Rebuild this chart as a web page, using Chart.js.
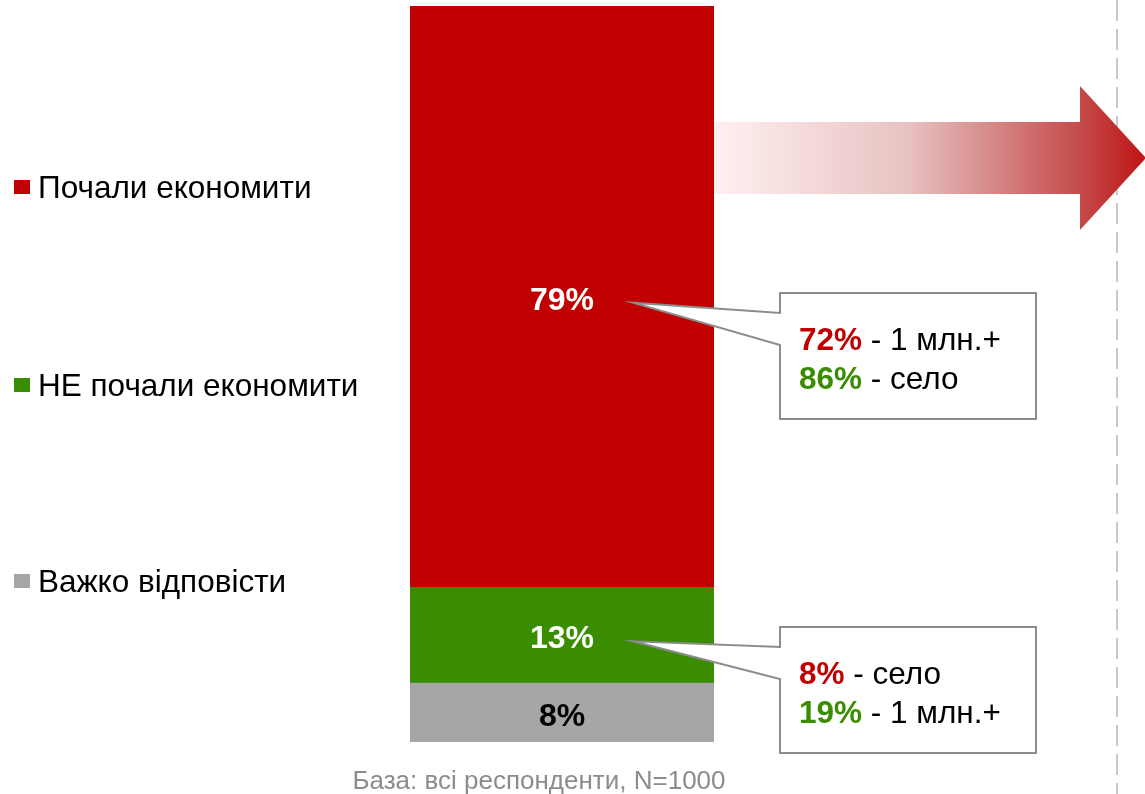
<!DOCTYPE html>
<html>
<head>
<meta charset="utf-8">
<script src="https://cdn.jsdelivr.net/npm/chart.js@4/dist/chart.umd.min.js"></script>
<style>
  html, body { margin: 0; padding: 0; background: #fff; }
  #wrap { width: 1145px; height: 794px; position: relative; }
</style>
</head>
<body>
<div id="wrap"><canvas id="chart"></canvas></div>
<script>
// data
const categories = ["Всі респонденти"];
const seriesLabels = ["Почали економити", "НЕ почали економити", "Важко відповісти"];
const savedValues = [79];
const notSavedValues = [13];
const hardToSayValues = [8];
const savedBreakdown = [["72%", " - 1 млн.+"], ["86%", " - село"]];
const notSavedBreakdown = [["8%", " - село"], ["19%", " - 1 млн.+"]];
const footnote = "База: всі респонденти, N=1000";

const RED = "#c00000";
const GREEN = "#3a8d00";
const GRAY = "#a6a6a6";
const FONT = "'Liberation Sans', Arial, sans-serif";

// legend on the left, spread out like the original slide
const legendPlugin = {
	id: "sideLegend",
	afterDraw(chart) {
		const ctx = chart.ctx;
		const items = [
			{ text: seriesLabels[0], color: RED, y: 198 },
			{ text: seriesLabels[1], color: GREEN, y: 396 },
			{ text: seriesLabels[2], color: GRAY, y: 592 },
		];
		ctx.save();
		ctx.font = "31.5px " + FONT;
		ctx.textBaseline = "alphabetic";
		items.forEach((it) => {
			ctx.fillStyle = it.color;
			ctx.fillRect(14, it.y - 18, 16, 14);
			ctx.fillStyle = "#000";
			ctx.fillText(it.text, 38, it.y);
		});
		ctx.restore();
	},
};

// arrow, dashed line, labels, callouts
const decorPlugin = {
	id: "decor",
	beforeDatasetsDraw(chart) {
		const ctx = chart.ctx;
		const area = chart.chartArea;
		ctx.save();
		// dashed divider
		ctx.strokeStyle = "#c8c8c8";
		ctx.lineWidth = 2;
		ctx.setLineDash([21, 8]);
		ctx.beginPath();
		ctx.moveTo(1117, 0);
		ctx.lineTo(1117, 794);
		ctx.stroke();
		ctx.setLineDash([]);
		// gradient arrow
		const x0 = area.right, xh = 1080, xt = 1146;
		const g = ctx.createLinearGradient(x0, 0, xt, 0);
		g.addColorStop(0, "rgba(255,240,240,1)");
		g.addColorStop(0.45, "#e8c2c2");
		g.addColorStop(0.85, "#c44a4a");
		g.addColorStop(1, "#bf1414");
		ctx.fillStyle = g;
		ctx.beginPath();
		ctx.moveTo(x0, 122);
		ctx.lineTo(xh, 122);
		ctx.lineTo(xh, 86);
		ctx.lineTo(xt, 158);
		ctx.lineTo(xh, 230);
		ctx.lineTo(xh, 194);
		ctx.lineTo(x0, 194);
		ctx.closePath();
		ctx.fill();
		ctx.restore();
	},
	afterDatasetsDraw(chart) {
		const ctx = chart.ctx;
		const metas = chart.data.datasets.map((d, i) => chart.getDatasetMeta(i).data[0]);
		const colors = ["#000", "#fff", "#fff"];
		ctx.save();
		ctx.font = "bold 32px " + FONT;
		ctx.textAlign = "center";
		ctx.textBaseline = "alphabetic";
		metas.forEach((bar, i) => {
			const v = chart.data.datasets[i].data[0];
			ctx.fillStyle = colors[i];
			ctx.fillText(v + "%", bar.x, (bar.y + bar.base) / 2 + 13);
		});

		const drawCallout = (bar, top, lines) => {
			const tipX = bar.x + 71;
			const tipY = (bar.y + bar.base) / 2 + 6;
			const left = 780, right = 1036, bottom = top + 126;
			ctx.beginPath();
			ctx.moveTo(left, top);
			ctx.lineTo(right, top);
			ctx.lineTo(right, bottom);
			ctx.lineTo(left, bottom);
			ctx.lineTo(left, top + 52);
			ctx.lineTo(tipX, tipY);
			ctx.lineTo(left, top + 20);
			ctx.closePath();
			ctx.fillStyle = "#fff";
			ctx.fill();
			ctx.strokeStyle = "#8c8c8c";
			ctx.lineWidth = 2;
			ctx.stroke();
			ctx.textAlign = "left";
			lines.forEach((ln, k) => {
				const y = top + 57 + k * 39;
				let x = 799;
				ctx.font = "bold 31.5px " + FONT;
				ctx.fillStyle = k === 0 ? RED : GREEN;
				ctx.fillText(ln[0], x, y);
				x += ctx.measureText(ln[0]).width;
				ctx.font = "31.5px " + FONT;
				ctx.fillStyle = "#000";
				ctx.fillText(ln[1], x, y);
			});
		};
		drawCallout(metas[2], 293, savedBreakdown);
		drawCallout(metas[1], 627, notSavedBreakdown);

		ctx.font = "26px " + FONT;
		ctx.fillStyle = "#8c8c8c";
		ctx.textAlign = "center";
		ctx.fillText(footnote, metas[0].x - 23, 789);
		ctx.restore();
	},
};

new Chart(document.getElementById("chart").getContext("2d"), {
	type: "bar",
	data: {
		labels: categories,
		datasets: [
			{ label: seriesLabels[2], data: hardToSayValues, backgroundColor: GRAY },
			{ label: seriesLabels[1], data: notSavedValues, backgroundColor: GREEN },
			{ label: seriesLabels[0], data: savedValues, backgroundColor: RED },
		],
	},
	options: {
		responsive: true,
		maintainAspectRatio: false,
		animation: false,
		layout: { padding: { left: 410, right: 431, top: 6, bottom: 52 } },
		datasets: { bar: { barPercentage: 1, categoryPercentage: 1 } },
		scales: {
			x: { stacked: true, display: false },
			y: { stacked: true, display: false, min: 0, max: 100 },
		},
		plugins: { legend: { display: false }, tooltip: { enabled: false } },
	},
	plugins: [legendPlugin, decorPlugin],
});
</script>
</body>
</html>
